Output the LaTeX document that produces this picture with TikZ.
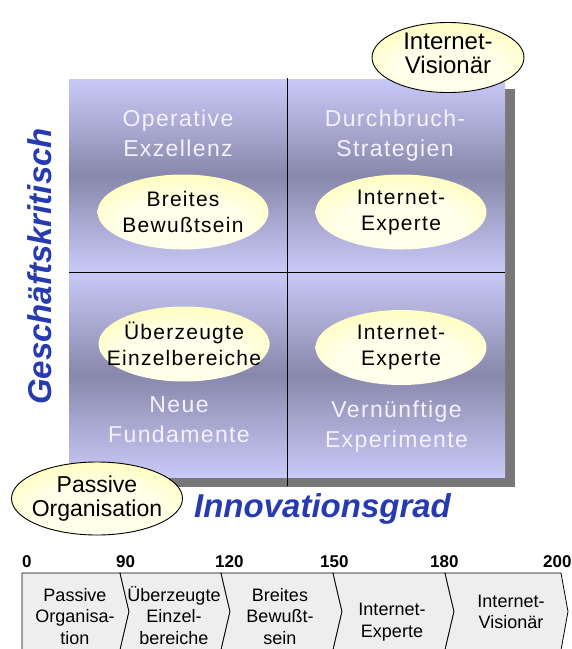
\documentclass[tikz,border=0pt]{standalone}
\usepackage{fontspec}
\setmainfont{Liberation Sans}
\newfontfamily\qfont[LetterSpace=6]{Liberation Sans}
\usetikzlibrary{shapes.geometric}
\definecolor{qlight}{RGB}{201,201,247}
\definecolor{qdark}{RGB}{136,136,172}
\definecolor{qtext}{RGB}{242,242,252}
\definecolor{ylight}{RGB}{255,255,234}
\definecolor{ydark}{RGB}{255,252,140}
\definecolor{axisblue}{RGB}{38,58,178}
\definecolor{shadowgray}{RGB}{120,120,120}
\definecolor{barfill}{RGB}{238,238,238}
\pgfdeclareradialshading{ellshade}{\pgfpoint{0bp}{-12bp}}{color(0bp)=(ylight); color(18bp)=(ylight); color(50bp)=(ydark); color(80bp)=(ydark)}
\begin{document}
\begin{tikzpicture}[x=1pt,y=-1pt,
  qlabel/.style={text=qtext, font=\qfont\fontsize{23}{30}\selectfont, align=center, inner sep=0pt},
  quad/.style={top color=qlight, bottom color=qlight, middle color=qdark},
  inell/.style={ellipse, shade, shading=ellshade, minimum width=171pt, minimum height=75pt, inner xsep=-25pt, inner ysep=0pt, text=black, font=\qfont\fontsize{21}{26}\selectfont, align=center},
  outell/.style={ellipse, draw=black, line width=0.9pt, shade, shading=ellshade, inner xsep=-25pt, inner ysep=0pt, text=black, align=center},
  axislabel/.style={text=axisblue, font=\bfseries\itshape\fontsize{33}{36}\selectfont, inner sep=0pt},
  seg/.style={fill=barfill, draw=black, line width=0.8pt, line join=miter},
  segtext/.style={font=\fontsize{18}{21.5}\selectfont, align=center, inner sep=0pt},
  num/.style={font=\bfseries\fontsize{17}{20}\selectfont, anchor=base west, inner sep=0pt},
]
\useasboundingbox (0,0) rectangle (572,649);

% matrix with shadow
\fill[shadowgray] (79,89) rectangle (515,487);
\shade[quad] (69,79) rectangle (287,272);
\shade[quad] (287,79) rectangle (505,272);
\shade[quad] (69,272) rectangle (287,477);
\shade[quad] (287,272) rectangle (505,477);
\draw[line width=0.9pt] (287,78) -- (287,486);
\draw[line width=0.9pt] (69,272) -- (505,272);

% quadrant labels
\node[qlabel] (q1) at (178,133.5) {Operative\\Exzellenz};
\node[qlabel] (q2) at (395,136) {Durchbruch-\\Strategien};
\node[qlabel] (q3) at (179,419.5) {Neue\\Fundamente};
\node[qlabel] (q4) at (396.5,427) {Vernünftige\\Experimente};

% inner ellipses
\node[inell] (e1) at (183,212) {Breites\\Bewußtsein};
\node[inell] (e2) at (401,212) {Internet-\\Experte};
\node[inell] (e3) at (184,344) {Überzeugte\\Einzelbereiche};
\node[inell] (e4) at (401,347.5) {Internet-\\Experte};

% outer ellipses
\node[outell, minimum width=152pt, minimum height=67pt, font=\fontsize{24}{24}\selectfont] (vis) at (448,57.5) {Internet-\\Visionär\rule[-9pt]{0pt}{9pt}};
\node[outell, minimum width=171pt, minimum height=73pt, font=\fontsize{23}{24}\selectfont] (pas) at (97,498.5) {Passive\\Organisation};

% axis labels
\node[axislabel] (xax) at (322.5,508.5) {Innovationsgrad};
\node[axislabel, rotate=90] (yax) at (40,266.5) {Geschäftskritisch};

% bottom bar
\draw[seg] (22,573) -- (120,573) -- (129,611.5) -- (120,650) -- (22,650) -- cycle;
\draw[seg] (120,573) -- (221,573) -- (230,611.5) -- (221,650) -- (120,650) -- (129,611.5) -- cycle;
\draw[seg] (221,573) -- (333,573) -- (342,611.5) -- (333,650) -- (221,650) -- (230,611.5) -- cycle;
\draw[seg] (333,573) -- (445,573) -- (454,611.5) -- (445,650) -- (333,650) -- (342,611.5) -- cycle;
\draw[seg] (445,573) -- (561,573) -- (568,611.5) -- (561,650) -- (445,650) -- (454,611.5) -- cycle;

\node[segtext] (s1) at (75,616.5) {Passive\\Organisa-\\tion};
\node[segtext] (s2) at (174,615.5) {Überzeugte\\Einzel-\\bereiche};
\node[segtext] (s3) at (280,616.5) {Breites\\Bewußt-\\sein};
\node[segtext] (s4) at (392,622) {Internet-\\Experte};
\node[segtext] (s5) at (511,612) {Internet-\\Visionär};

\node[num] (n0) at (22,567) {0};
\node[num] (n1) at (116,567) {90};
\node[num] (n2) at (215,567) {120};
\node[num] (n3) at (320,567) {150};
\node[num] (n4) at (430,567) {180};
\node[num] (n5) at (543,567) {200};
\end{tikzpicture}
\end{document}
